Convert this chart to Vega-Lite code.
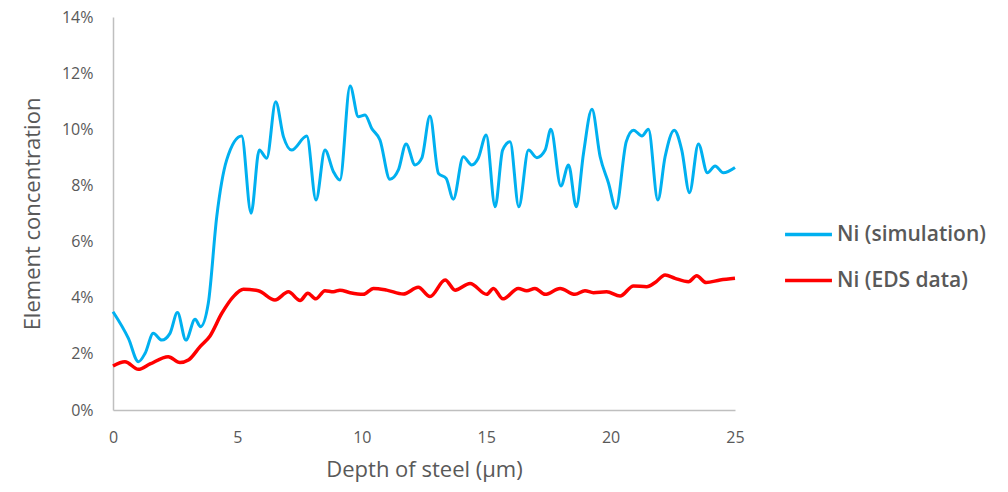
{
  "$schema": "https://vega.github.io/schema/vega-lite/v6.json",
  "autosize": {"type": "none"},
  "width": 622,
  "height": 393,
  "padding": {"left": 113, "top": 17, "right": 273, "bottom": 82},
  "background": "white",
  "config": {"view": {"stroke": null}, "font": "Open Sans"},
  "datasets": {
    "sim": [
      {"d": 0, "c": 0.0350}, {"d": 0.62, "c": 0.0255}, {"d": 1.02, "c": 0.0172}, {"d": 1.29, "c": 0.0202},
      {"d": 1.62, "c": 0.0273}, {"d": 1.96, "c": 0.0249}, {"d": 2.29, "c": 0.0273}, {"d": 2.59, "c": 0.0347},
      {"d": 2.93, "c": 0.0249}, {"d": 3.30, "c": 0.0323}, {"d": 3.52, "c": 0.0297}, {"d": 3.83, "c": 0.0380},
      {"d": 4.17, "c": 0.0689}, {"d": 4.57, "c": 0.0891}, {"d": 5.17, "c": 0.0976}, {"d": 5.55, "c": 0.0701},
      {"d": 5.88, "c": 0.0926}, {"d": 6.18, "c": 0.0897}, {"d": 6.54, "c": 0.1098}, {"d": 6.85, "c": 0.0974},
      {"d": 7.18, "c": 0.0926}, {"d": 7.79, "c": 0.0976}, {"d": 8.16, "c": 0.0748}, {"d": 8.52, "c": 0.0926},
      {"d": 8.86, "c": 0.0849}, {"d": 9.12, "c": 0.0819}, {"d": 9.53, "c": 0.1154}, {"d": 9.86, "c": 0.1045},
      {"d": 10.13, "c": 0.1051}, {"d": 10.40, "c": 0.1003}, {"d": 10.73, "c": 0.0962}, {"d": 11.13, "c": 0.0822},
      {"d": 11.47, "c": 0.0855}, {"d": 11.78, "c": 0.0948}, {"d": 12.14, "c": 0.0873}, {"d": 12.41, "c": 0.0897},
      {"d": 12.74, "c": 0.1047}, {"d": 13.08, "c": 0.0843}, {"d": 13.39, "c": 0.0825}, {"d": 13.68, "c": 0.0751},
      {"d": 14.08, "c": 0.0902}, {"d": 14.42, "c": 0.0873}, {"d": 14.68, "c": 0.0897}, {"d": 15.00, "c": 0.0980},
      {"d": 15.36, "c": 0.0724}, {"d": 15.66, "c": 0.0926}, {"d": 15.96, "c": 0.0956}, {"d": 16.31, "c": 0.0724},
      {"d": 16.70, "c": 0.0926}, {"d": 17.04, "c": 0.0899}, {"d": 17.37, "c": 0.0926}, {"d": 17.60, "c": 0.1000},
      {"d": 18.00, "c": 0.0798}, {"d": 18.31, "c": 0.0873}, {"d": 18.62, "c": 0.0724}, {"d": 18.91, "c": 0.0914},
      {"d": 19.25, "c": 0.1071}, {"d": 19.58, "c": 0.0902}, {"d": 19.92, "c": 0.0807}, {"d": 20.21, "c": 0.0718},
      {"d": 20.63, "c": 0.0956}, {"d": 20.92, "c": 0.0997}, {"d": 21.26, "c": 0.0976}, {"d": 21.52, "c": 0.1000},
      {"d": 21.90, "c": 0.0748}, {"d": 22.19, "c": 0.0902}, {"d": 22.56, "c": 0.0997}, {"d": 22.86, "c": 0.0926},
      {"d": 23.17, "c": 0.0774}, {"d": 23.53, "c": 0.0948}, {"d": 23.89, "c": 0.0845}, {"d": 24.20, "c": 0.0869},
      {"d": 24.53, "c": 0.0845}, {"d": 25.00, "c": 0.0864}
    ],
    "eds": [
      {"d": 0, "c": 0.0157}, {"d": 0.48, "c": 0.0172}, {"d": 1.02, "c": 0.0145}, {"d": 1.49, "c": 0.0164},
      {"d": 2.22, "c": 0.0190}, {"d": 2.69, "c": 0.0169}, {"d": 3.03, "c": 0.0178}, {"d": 3.50, "c": 0.0226},
      {"d": 3.90, "c": 0.0264}, {"d": 4.37, "c": 0.0344}, {"d": 4.84, "c": 0.0404}, {"d": 5.24, "c": 0.0430},
      {"d": 5.84, "c": 0.0425}, {"d": 6.51, "c": 0.0392}, {"d": 7.05, "c": 0.0421}, {"d": 7.52, "c": 0.0390},
      {"d": 7.83, "c": 0.0416}, {"d": 8.15, "c": 0.0396}, {"d": 8.52, "c": 0.0425}, {"d": 8.86, "c": 0.0421},
      {"d": 9.12, "c": 0.0427}, {"d": 9.53, "c": 0.0418}, {"d": 10.06, "c": 0.0412}, {"d": 10.47, "c": 0.0433},
      {"d": 11.00, "c": 0.0427}, {"d": 11.67, "c": 0.0413}, {"d": 12.27, "c": 0.0437}, {"d": 12.74, "c": 0.0404},
      {"d": 13.35, "c": 0.0463}, {"d": 13.75, "c": 0.0427}, {"d": 14.35, "c": 0.0451}, {"d": 15.02, "c": 0.0412},
      {"d": 15.29, "c": 0.0433}, {"d": 15.67, "c": 0.0396}, {"d": 16.29, "c": 0.0433}, {"d": 16.63, "c": 0.0425},
      {"d": 16.96, "c": 0.0433}, {"d": 17.37, "c": 0.0412}, {"d": 17.97, "c": 0.0433}, {"d": 18.57, "c": 0.0412},
      {"d": 18.97, "c": 0.0425}, {"d": 19.31, "c": 0.0418}, {"d": 19.84, "c": 0.0421}, {"d": 20.38, "c": 0.0406},
      {"d": 20.92, "c": 0.0442}, {"d": 21.45, "c": 0.0439}, {"d": 21.79, "c": 0.0454}, {"d": 22.19, "c": 0.0481},
      {"d": 22.59, "c": 0.0469}, {"d": 23.13, "c": 0.0457}, {"d": 23.46, "c": 0.0478}, {"d": 23.84, "c": 0.0454},
      {"d": 24.40, "c": 0.0463}, {"d": 25.00, "c": 0.0469}
    ]
  },
  "layer": [
    {
      "data": {"name": "sim"},
      "transform": [{"calculate": "'Ni (simulation)'", "as": "s"}],
      "mark": {"type": "line", "interpolate": "monotone", "strokeWidth": 3},
      "encoding": {
        "x": {"field": "d", "type": "quantitative"},
        "y": {"field": "c", "type": "quantitative"},
        "color": {"field": "s", "type": "nominal"}
      }
    },
    {
      "data": {"name": "eds"},
      "transform": [{"calculate": "'Ni (EDS data)'", "as": "s"}],
      "mark": {"type": "line", "interpolate": "monotone", "strokeWidth": 3.5},
      "encoding": {
        "x": {"field": "d", "type": "quantitative"},
        "y": {"field": "c", "type": "quantitative"},
        "color": {"field": "s", "type": "nominal"}
      }
    }
  ],
  "encoding": {
    "x": {
      "field": "d", "type": "quantitative",
      "scale": {"domain": [0, 25], "nice": false, "zero": false},
      "axis": {
        "title": "Depth of steel (µm)", "values": [0, 5, 10, 15, 20, 25], "grid": false, "ticks": false,
        "domainColor": "#bfbfbf", "domainWidth": 1.5, "labelFontSize": 16, "labelColor": "#595959",
        "labelPadding": 19, "titleFontSize": 22, "titleFontWeight": "normal", "titleColor": "#595959",
        "titlePadding": 14, "labelFlush": false
      }
    },
    "y": {
      "field": "c", "type": "quantitative",
      "scale": {"domain": [0, 0.14], "nice": false},
      "axis": {
        "title": "Element concentration", "format": ".0%", "values": [0, 0.02, 0.04, 0.06, 0.08, 0.1, 0.12, 0.14],
        "grid": false, "ticks": false, "domainColor": "#bfbfbf", "domainWidth": 1.5, "labelFontSize": 16,
        "labelColor": "#595959", "labelPadding": 20, "titleFontSize": 22, "titleFontWeight": "normal",
        "titleColor": "#595959", "titlePadding": 17, "labelFlush": false
      }
    },
    "color": {
      "field": "s", "type": "nominal",
      "scale": {"domain": ["Ni (simulation)", "Ni (EDS data)"], "range": ["#00b0f0", "#ff0000"]},
      "legend": {
        "title": null, "orient": "none", "legendX": 670, "legendY": 192,
        "symbolType": "stroke", "symbolSize": 2200, "symbolStrokeWidth": 3.5,
        "labelFontSize": 21, "labelFontWeight": 600, "labelColor": "#595959", "labelOffset": 3,
        "rowPadding": 10, "labelFont": "Open Sans"
      }
    }
  }
}
